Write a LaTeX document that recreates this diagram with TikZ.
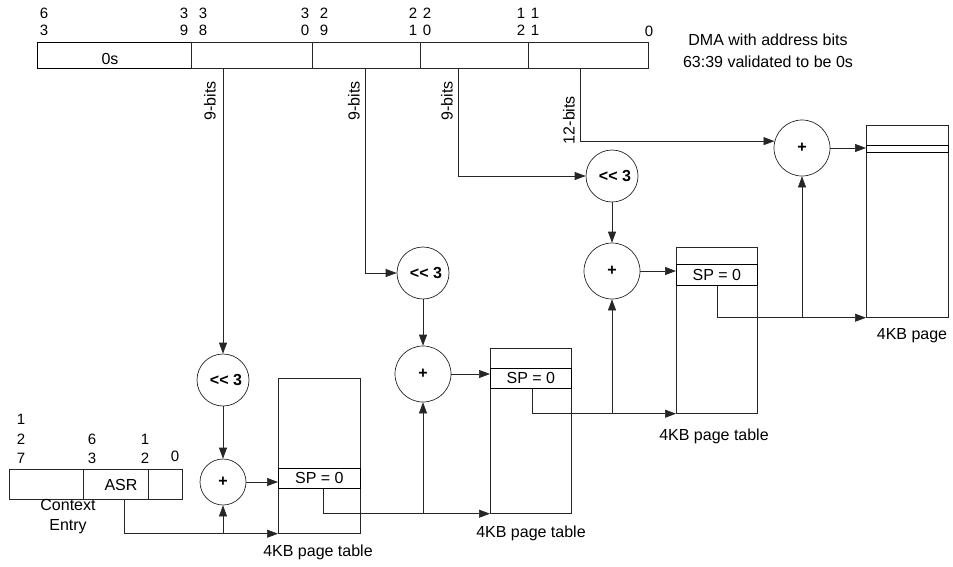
\documentclass[tikz,border=0pt]{standalone}
\usepackage{fontspec}
\setmainfont{Liberation Sans}
\usetikzlibrary{arrows.meta,calc}
\begin{document}
\begin{tikzpicture}[x=1pt,y=-1pt,
  txt/.style={font=\fontsize{16}{20}\selectfont, inner sep=0pt, align=center},
  bitlbl/.style={font=\fontsize{15}{17}\selectfont, inner sep=0pt, align=center},
  ctxlbl/.style={font=\fontsize{15}{19.5}\selectfont, inner sep=0pt, align=center},
  op/.style={draw=black!85, line width=0.7pt, circle, minimum size=52pt, inner sep=0pt, font=\bfseries\fontsize{16}{16}\selectfont},
  box/.style={draw=black!85, line width=0.7pt, rectangle, inner sep=0pt},
  ln/.style={line width=0.7pt, draw=black!85},
  arr/.style={-{Triangle[length=11pt,width=8pt]}}]
\useasboundingbox (0,0) rectangle (953,566);

% ---- top register ----
\node[box, line width=1.1pt, draw=black, anchor=north west, minimum width=154pt, minimum height=26pt] (zeros) at (37,42) {};
\node[txt] (zl) at (110,59) {0s};
\node[box, anchor=north west, minimum width=457pt, minimum height=26pt] (reg) at (191,42) {};
\draw[ln] (312,42) -- (312,68);
\draw[ln] (420,42) -- (420,68);
\draw[ln] (528,42) -- (528,68);
\node[bitlbl] (b63) at (44,21.5) {6\\3};
\node[bitlbl] (b39) at (184,21.5) {3\\9};
\node[bitlbl] (b38) at (203,21.5) {3\\8};
\node[bitlbl] (b30) at (305,21.5) {3\\0};
\node[bitlbl] (b29) at (324,21.5) {2\\9};
\node[bitlbl] (b21) at (413,21.5) {2\\1};
\node[bitlbl] (b20) at (427,21.5) {2\\0};
\node[bitlbl] (b12) at (521,21.5) {1\\2};
\node[bitlbl] (b11) at (535,21.5) {1\\1};
\node[bitlbl] (b0) at (649,31) {0};
\node[txt, font=\fontsize{16}{22}\selectfont] (dma) at (768,51) {DMA with address bits\\63:39 validated to be 0s};

\coordinate (tap1) at (223,68);
\coordinate (tap2) at (365,68);
\coordinate (tap3) at (458,68);
\coordinate (tap4) at (580,68);
\node[txt, rotate=90] (bl1) at (210,101) {9-bits};
\node[txt, rotate=90] (bl2) at (354,101) {9-bits};
\node[txt, rotate=90] (bl3) at (447,101) {9-bits};
\node[txt, rotate=90] (bl4) at (569,120) {12-bits};

% ---- operators ----
\node[op] (sh1) at (223,380) {\kern6pt<\kern0pt<~3};
\node[op, minimum size=46pt] (p1) at (223,482) {+};
\node[op] (sh2) at (423,273) {\kern6pt<\kern0pt<~3};
\node[op, minimum size=56pt] (p2) at (423,374) {+};
\node[op] (sh3) at (612,176) {\kern6pt<\kern0pt<~3};
\node[op, minimum size=56pt] (p3) at (612,271) {+};
\node[op, minimum size=56pt] (p4) at (802,148) {+};

% ---- tables ----
\node[box, anchor=north west, minimum width=82pt, minimum height=155pt] (T1) at (278,378) {};
\node[box, txt, draw=black, anchor=north west, minimum width=82pt, minimum height=20pt] (S1) at (278,468) {SP = 0};
\node[box, anchor=north west, minimum width=81pt, minimum height=165pt] (T2) at (490,348) {};
\node[box, txt, draw=black, anchor=north west, minimum width=81pt, minimum height=20pt] (S2) at (490,368) {SP = 0};
\node[box, anchor=north west, minimum width=81pt, minimum height=166pt] (T3) at (676,247) {};
\node[box, txt, draw=black, anchor=north west, minimum width=81pt, minimum height=21pt] (S3) at (676,264) {SP = 0};
\node[box, anchor=north west, minimum width=82pt, minimum height=192pt] (P) at (866,125) {};
\node[box, draw=black, anchor=north west, minimum width=82pt, minimum height=7pt] (PS) at (866,145) {};

\node[txt] (L1) at (318,552) {4KB page table};
\node[txt] (L2) at (531,533) {4KB page table};
\node[txt] (L3) at (714,436) {4KB page table};
\node[txt] (L4) at (912,336) {4KB page};

% ---- context entry ----
\node[box, anchor=north west, minimum width=173pt, minimum height=30pt] (ctx) at (9,469) {};
\node[box, anchor=north west, minimum width=65pt, minimum height=30pt] (asr) at (83,469) {};
\node[txt] (asrl) at (121,485) {ASR};
\node[ctxlbl] (c127) at (21,439) {1\\2\\7};
\node[ctxlbl] (c63) at (92,449) {6\\3};
\node[ctxlbl] (c12) at (145,449) {1\\2};
\node[ctxlbl] (c0) at (175,456) {0};
\node[txt] (ce) at (68,517) {Context\\Entry};

% ---- connectors ----
\draw[ln,arr] (tap1) -- (sh1);
\draw[ln,arr] (sh1) -- (p1);
\draw[ln,arr] (p1.east) -- (p1.east -| S1.west);
\draw[ln,arr] ([xshift=8.5pt]asr.south) |- (T1.south west);
\draw[ln,arr] (p1.south |- T1.south west) -- (p1.south);

\draw[ln,arr] ([xshift=4pt]S1.south) |- (T2.south west);
\draw[ln,arr] (p2.south |- T2.south west) -- (p2.south);
\draw[ln,arr] (tap2) |- (sh2.west);
\draw[ln,arr] (sh2) -- (p2);
\draw[ln,arr] (p2.east) -- (p2.east -| S2.west);

\draw[ln,arr] ([xshift=1.5pt]S2.south) |- (T3.south west);
\draw[ln,arr] (p3.south |- T3.south west) -- (p3.south);
\draw[ln,arr] (tap3) |- (sh3.west);
\draw[ln,arr] (sh3) -- (p3);
\draw[ln,arr] (p3.east) -- (p3.east -| S3.west);

\draw[ln,arr] (S3.south) |- (P.south west);
\draw[ln,arr] (p4.south |- P.south west) -- (p4.south);
\draw[ln,arr] (tap4) |- (p4.166);
\draw[ln,arr] (p4.east) -- (p4.east -| PS.west);
\end{tikzpicture}
\end{document}
